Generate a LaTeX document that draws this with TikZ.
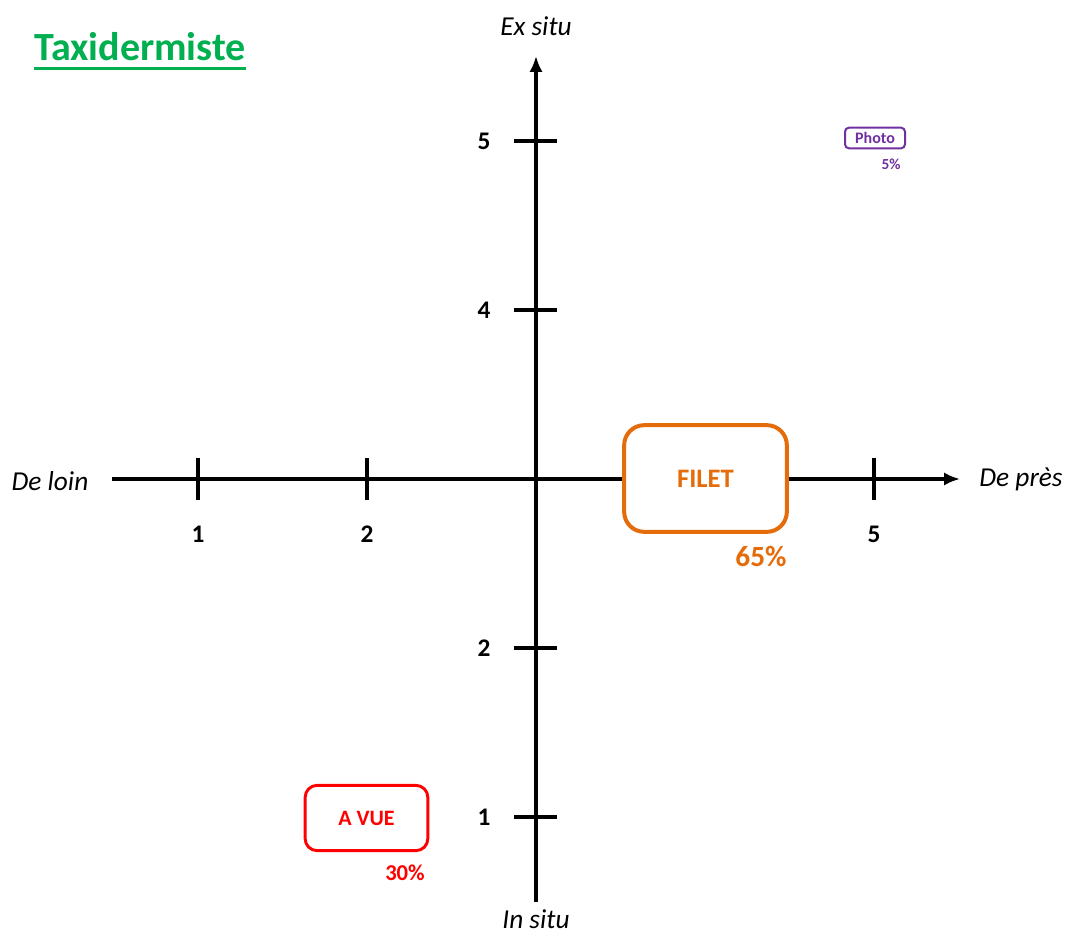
\documentclass[tikz,border=0pt]{standalone}
\usepackage{fontspec}
\setmainfont{Carlito}
\usepackage{xcolor}
\usetikzlibrary{arrows.meta,positioning}

\definecolor{titlegreen}{HTML}{00B050}
\definecolor{filetorange}{HTML}{E46C0A}
\definecolor{avuered}{HTML}{FF0000}
\definecolor{photopurple}{HTML}{7030A0}

\begin{document}
\begin{tikzpicture}[
    x=0.75pt, y=-0.75pt,
    axis/.style={line width=3pt, -{Latex[length=12pt,width=10pt]}},
    axtick/.style={line width=3pt},
    ticklabel/.style={font=\bfseries\fontsize{19}{21}\selectfont},
    axislabel/.style={font=\itshape\fontsize{20.5}{22}\selectfont, inner sep=1pt},
    method/.style={rectangle, fill=white, font=\bfseries, inner sep=0pt},
    share/.style={font=\bfseries, inner sep=0pt}
]
    \useasboundingbox (0,0) rectangle (1065,938);

    % axes
    \coordinate (origin) at (536,479);
    \coordinate (xmin) at (112,479);
    \coordinate (xmax) at (960,479);
    \coordinate (ymin) at (536,902);
    \coordinate (ymax) at (536,56);
    \draw[axis] (xmin) -- (xmax);
    \draw[axis] (ymin) -- (ymax);

    \node[axislabel] (loin) at (50,481) {De loin};
    \node[axislabel] (pres) at (1021,479) {De près};
    \node[axislabel] (exsitu) at (536,26) {Ex situ};
    \node[axislabel] (insitu) at (536,919) {In situ};

    % graduations
    \foreach \x/\lab in {-2/1, -1/2, 2/5} {
        \draw[axtick] ([shift={(\x*169,-21)}]origin) -- ([shift={(\x*169,21)}]origin);
        \node[ticklabel] (xl\lab) at ([shift={(\x*169,55)}]origin) {\lab};
    }
    \foreach \y/\lab in {-2/5, -1/4, 1/2, 2/1} {
        \draw[axtick] ([shift={(-22,\y*169)}]origin) -- ([shift={(21,\y*169)}]origin);
        \node[ticklabel] (yl\lab) at ([shift={(-52,\y*169)}]origin) {\lab};
    }

    % titre
    \node[text=titlegreen, font=\bfseries\fontsize{30}{34}\selectfont, inner sep=0pt] (title) at (140,47) {Taxidermiste};
    \draw[titlegreen, line width=2.2pt] ([yshift=-6pt]title.base west) -- ([yshift=-6pt]title.base east);

    % methodes
    \node[method, draw=filetorange, text=filetorange, line width=3pt, rounded corners=15pt,
          minimum width=122pt, minimum height=80pt, font=\bfseries\fontsize{20}{22}\selectfont] (filet) at (705.5,478.5) {FILET};
    \node[share, text=filetorange, font=\bfseries\fontsize{22}{24}\selectfont] (filetpct) at (761,557) {65\%};

    \node[method, draw=avuered, text=avuered, line width=2.2pt, rounded corners=9pt,
          minimum width=92pt, minimum height=49pt, font=\bfseries\fontsize{16.5}{18}\selectfont] (avue) at (366.5,818) {A VUE};
    \node[share, text=avuered, font=\bfseries\fontsize{17}{19}\selectfont] (avuepct) at (405,873) {30\%};

    \node[method, draw=photopurple, text=photopurple, line width=1.5pt, rounded corners=3pt,
          minimum width=45pt, minimum height=15.5pt, font=\bfseries\fontsize{12}{14}\selectfont] (photo) at (875,138) {Photo};
    \node[share, text=photopurple, font=\bfseries\fontsize{11.5}{13}\selectfont] (photopct) at (891,164) {5\%};
\end{tikzpicture}
\end{document}
